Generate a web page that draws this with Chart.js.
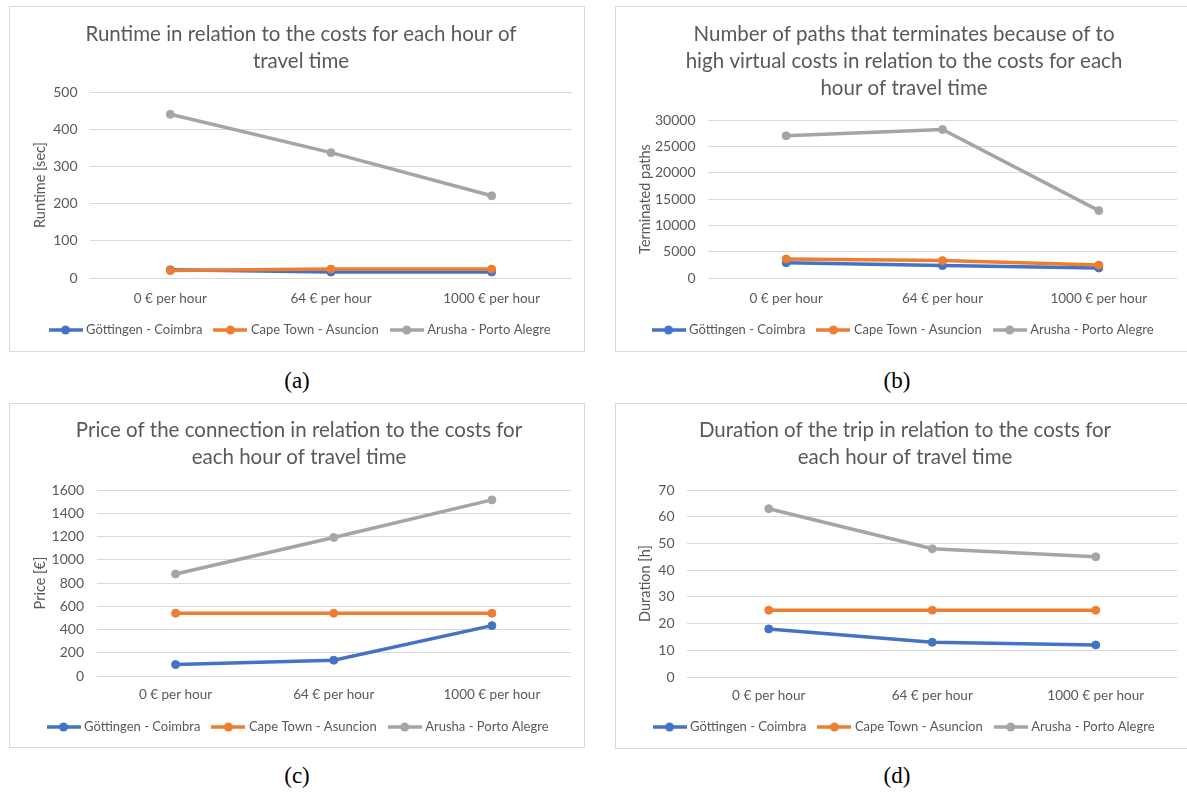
<!DOCTYPE html>
<html>
<head>
<meta charset="utf-8">
<script src="https://cdn.jsdelivr.net/npm/chart.js@4.4.1/dist/chart.umd.min.js"></script>
<style>
  html, body { margin: 0; padding: 0; background: #ffffff; overflow: hidden; }
  body { width: 1187px; height: 796px; position: relative; }
  .frame { position: absolute; border: 1px solid #d9d9d9; box-sizing: border-box; pointer-events: none; }
  canvas { position: absolute; }
  .caption { position: absolute; width: 80px; text-align: center; font-family: "Liberation Serif", "DejaVu Serif", serif; font-size: 23px; color: #000; line-height: 28px; }
</style>
</head>
<body>
<div class="frame" style="left:9px;top:6px;width:576px;height:346px;"></div>
<div class="frame" style="left:615px;top:6px;width:600px;height:346px;"></div>
<div class="frame" style="left:9px;top:403px;width:576px;height:345px;"></div>
<div class="frame" style="left:615px;top:403px;width:600px;height:346px;"></div>

<canvas id="chartA" width="573" height="343" style="left:10px;top:7px;"></canvas>
<canvas id="chartB" width="571" height="343" style="left:616px;top:7px;"></canvas>
<canvas id="chartC" width="573" height="342" style="left:10px;top:404px;"></canvas>
<canvas id="chartD" width="571" height="343" style="left:616px;top:404px;"></canvas>

<div class="caption" style="left:257px;top:367px;">(a)</div>
<div class="caption" style="left:857px;top:367px;">(b)</div>
<div class="caption" style="left:257px;top:762px;">(c)</div>
<div class="caption" style="left:857px;top:762px;">(d)</div>

<script>
// Categories and series names shared by all four charts
const categories = ['0 € per hour', '64 € per hour', '1000 € per hour'];
const seriesNames = ['Göttingen - Coimbra', 'Cape Town - Asuncion', 'Arusha - Porto Alegre'];

// (a) Runtime [sec]
const runtimeGoettingen = [22, 16, 16];
const runtimeCapeTown = [20, 24, 24];
const runtimeArusha = [440, 337, 221];

// (b) Terminated paths
const pathsGoettingen = [2900, 2350, 1900];
const pathsCapeTown = [3600, 3300, 2450];
const pathsArusha = [27000, 28200, 12800];

// (c) Price [€]
const priceGoettingen = [98, 136, 433];
const priceCapeTown = [540, 540, 540];
const priceArusha = [878, 1192, 1515];

// (d) Duration [h]
const durationGoettingen = [18, 13, 12];
const durationCapeTown = [25, 25, 25];
const durationArusha = [63, 48, 45];

const seriesColors = ['#4472C4', '#ED7D31', '#A5A5A5'];
const textColor = '#595959';
const gridColor = '#D9D9D9';
const fontFamily = 'Lato, "Open Sans", sans-serif';

// Legend marker: a short line with a dot in the middle
function legendIcon(color) {
  const c = document.createElement('canvas');
  c.width = 34; c.height = 12;
  const g = c.getContext('2d');
  g.strokeStyle = color; g.lineWidth = 3.5;
  g.beginPath(); g.moveTo(0, 6); g.lineTo(34, 6); g.stroke();
  g.fillStyle = color;
  g.beginPath(); g.arc(17, 6, 4.5, 0, Math.PI * 2); g.fill();
  return c;
}

function makeChart(id, titleLines, yTitle, yMax, yStep, series, lay) {
  const datasets = series.map((values, i) => ({
    label: seriesNames[i],
    data: values,
    borderColor: seriesColors[i],
    backgroundColor: seriesColors[i],
    borderWidth: 3.5,
    pointRadius: 4,
    pointBorderWidth: 1,
    pointBackgroundColor: seriesColors[i],
    pointBorderColor: seriesColors[i],
    tension: 0,
    order: series.length - i
  }));
  return new Chart(document.getElementById(id), {
    type: 'line',
    data: { labels: categories, datasets },
    options: {
      responsive: false,
      animation: false,
      devicePixelRatio: 1,
      layout: { padding: { top: 0, left: lay.padLeft, right: lay.padRight, bottom: lay.padBottom } },
      plugins: {
        tooltip: { enabled: false },
        title: {
          display: true,
          text: titleLines,
          color: textColor,
          font: { family: fontFamily, size: 20.5, weight: 'normal', lineHeight: '27px' },
          padding: { top: lay.titleTop, bottom: lay.titleBottom }
        },
        legend: {
          position: 'bottom',
          labels: {
            color: textColor,
            font: { family: fontFamily, size: 13 },
            usePointStyle: true,
            pointStyleWidth: 28,
            padding: 14,
            sort: (a, b) => a.datasetIndex - b.datasetIndex,
            generateLabels(chart) {
              const items = Chart.defaults.plugins.legend.labels.generateLabels(chart);
              items.forEach(it => { it.pointStyle = legendIcon(seriesColors[it.datasetIndex]); });
              return items;
            }
          }
        }
      },
      scales: {
        x: {
          offset: true,
          grid: { display: false, drawTicks: false },
          border: { display: false },
          ticks: { color: textColor, font: { family: fontFamily, size: 13.5 }, padding: lay.xPad, maxRotation: 0 },
          afterFit(scale) { scale.height = lay.xHeight; }
        },
        y: {
          min: 0,
          max: yMax,
          grid: { color: gridColor, lineWidth: 1, drawTicks: false },
          border: { display: false },
          ticks: {
            stepSize: yStep,
            color: textColor,
            font: { family: fontFamily, size: 14 },
            padding: 12.5,
            callback: v => String(v)
          },
          title: {
            display: true,
            text: yTitle,
            color: textColor,
            font: { family: fontFamily, size: 14.5, weight: 'normal' },
            padding: { top: lay.yTitlePad, bottom: 0 }
          },
          afterFit(scale) { scale.width = lay.yWidth; }
        }
      }
    }
  });
}

makeChart('chartA',
  ['Runtime in relation to the costs for each hour of', 'travel time'],
  'Runtime [sec]', 500, 100,
  [runtimeGoettingen, runtimeCapeTown, runtimeArusha],
  { padLeft: 20, padRight: 11, padBottom: 3.5, titleTop: 13.5, titleBottom: 17.5, xPad: 12.4, xHeight: 31.5, yWidth: 60, yTitlePad: 2 });

makeChart('chartB',
  ['Number of paths that terminates because of to', 'high virtual costs in relation to the costs for each', 'hour of travel time'],
  'Terminated paths', 30000, 5000,
  [pathsGoettingen, pathsCapeTown, pathsArusha],
  { padLeft: 15, padRight: 10, padBottom: 3.5, titleTop: 13.5, titleBottom: 18.5, xPad: 12.4, xHeight: 31.5, yWidth: 77, yTitlePad: 6 });

makeChart('chartC',
  ['Price of the connection in relation to the costs for', 'each hour of travel time'],
  'Price [€]', 1600, 200,
  [priceGoettingen, priceCapeTown, priceArusha],
  { padLeft: 17, padRight: 12, padBottom: 2.5, titleTop: 12.8, titleBottom: 19.2, xPad: 10.9, xHeight: 30.5, yWidth: 69.5, yTitlePad: 5 });

makeChart('chartD',
  ['Duration of the trip in relation to the costs for', 'each hour of travel time'],
  'Duration [h]', 70, 10,
  [durationGoettingen, durationCapeTown, durationArusha],
  { padLeft: 16.5, padRight: 9.5, padBottom: 3.5, titleTop: 12.8, titleBottom: 19.2, xPad: 10.9, xHeight: 29.5, yWidth: 54.5, yTitlePad: 4.5 });
</script>
</body>
</html>
